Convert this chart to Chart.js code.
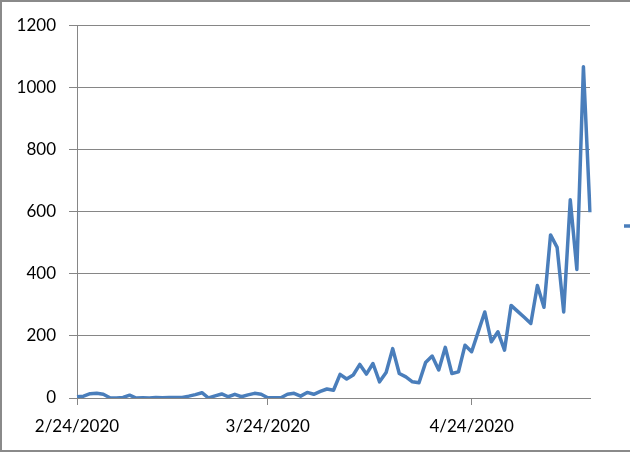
<!DOCTYPE html>
<html>
<head>
<meta charset="utf-8">
<script src="https://cdn.jsdelivr.net/npm/chart.js@4/dist/chart.umd.min.js"></script>
<style>
  html, body { margin: 0; padding: 0; overflow: hidden; background: #fff; }
  #marco {
    position: absolute; left: 0; top: 0;
    width: 700px; height: 448px;
    border: 2px solid #8a8a8a;
  }
  canvas { display: block; }
</style>
</head>
<body>
<div id="marco"><canvas id="casosChart" width="700" height="448"></canvas></div>
<script>
// Datos: casos diarios desde el 24/2/2020
const fechaInicio = [2020, 1, 24]; // año, mes (0-11), día
const casosNuevos = [
    4, 6, 14, 15, 12, 1, 0, 2, 9, 0,
    1, 0, 2, 1, 2, 2, 2, 6, 11, 17,
    0, 7, 13, 4, 12, 4, 10, 15, 12, 1,
    1, 1, 12, 15, 6, 18, 12, 21, 29, 25,
    76, 61, 74, 108, 77, 111, 52, 82, 159, 79,
    68, 52, 49, 114, 135, 90, 163, 79, 84, 170,
    149, 213, 277, 181, 213, 154, 298, 279, 260, 240,
    362, 292, 525, 485, 277, 638, 414, 1066, 598
];
const etiquetasEjeX = ['2/24/2020', '3/24/2020', '4/24/2020'];
const etiquetasEjeY = [0, 200, 400, 600, 800, 1000, 1200];

// Fechas de cada punto (m/d/aaaa)
const fechas = casosNuevos.map((_, i) => {
    const d = new Date(Date.UTC(fechaInicio[0], fechaInicio[1], fechaInicio[2] + i));
    return (d.getUTCMonth() + 1) + '/' + d.getUTCDate() + '/' + d.getUTCFullYear();
});

const gris = '#868686';
const azul = '#4A7EBB';

Chart.defaults.font.family = 'Lato';
Chart.defaults.font.size = 17;
Chart.defaults.color = '#000';

const ctx = document.getElementById('casosChart').getContext('2d');
const casosChart = new Chart(ctx, {
    type: 'line',
    data: {
        labels: fechas,
        datasets: [{
            label: 'Casos nuevos',
            data: casosNuevos,
            borderColor: azul,
            backgroundColor: azul,
            borderWidth: 3.5,
            borderJoinStyle: 'round',
            pointRadius: 0,
            tension: 0,
            fill: false
        }]
    },
    options: {
        responsive: false,
        animation: false,
        devicePixelRatio: 1,
        layout: { padding: 0 },
        plugins: {
            title: {
                display: true,
                text: '',
                font: { size: 10, lineHeight: 1.2 },
                padding: { top: 0, bottom: 10 }
            },
            legend: {
                display: true,
                position: 'right',
                align: 'center',
                maxWidth: 112,
                labels: {
                    usePointStyle: true,
                    pointStyle: 'line',
                    pointStyleWidth: 8,
                    padding: 34,
                    color: '#000'
                }
            },
            tooltip: { enabled: false }
        },
        scales: {
            x: {
                type: 'category',
                offset: false,
                border: { display: true, color: gris, width: 1 },
                grid: {
                    drawOnChartArea: false,
                    drawTicks: true,
                    tickLength: 7,
                    tickColor: (c) => etiquetasEjeX.includes(fechas[c.index]) ? gris : 'rgba(0,0,0,0)'
                },
                ticks: {
                    autoSkip: false,
                    maxRotation: 0,
                    minRotation: 0,
                    padding: 11,
                    callback: function (value, index) {
                        const f = fechas[index];
                        return etiquetasEjeX.includes(f) ? f : '';
                    }
                },
                afterFit: (scale) => { scale.height = 52; }
            },
            y: {
                min: etiquetasEjeY[0],
                max: etiquetasEjeY[etiquetasEjeY.length - 1],
                border: { display: true, color: gris, width: 1 },
                grid: {
                    color: gris,
                    lineWidth: 1,
                    drawTicks: true,
                    tickLength: 8
                },
                ticks: {
                    stepSize: 200,
                    padding: 13,
                    callback: (value) => String(value) // sin separador de miles
                },
                afterBuildTicks: (scale) => {
                    scale.ticks = etiquetasEjeY.map(v => ({ value: v }));
                },
                afterFit: (scale) => { scale.width = 75; }
            }
        }
    }
});
</script>
</body>
</html>
